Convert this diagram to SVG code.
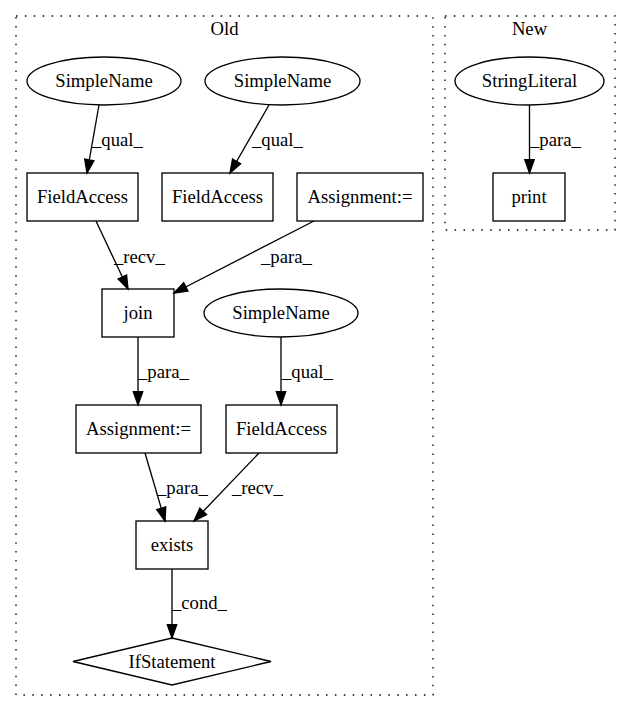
<svg xmlns="http://www.w3.org/2000/svg" width="631" height="712" viewBox="0 0 631 712">
<style>
text{font-family:"Liberation Serif","Times New Roman",serif;font-size:18.67px;fill:#000}
.c{text-anchor:middle}
.n{fill:none;stroke:#000;stroke-width:1.33}
.cl{fill:none;stroke:#000;stroke-width:1.33;stroke-dasharray:1.5,7.4}
.e{fill:none;stroke:#000;stroke-width:1.33}
</style>
<defs>
<marker id="ah" markerUnits="userSpaceOnUse" markerWidth="15" markerHeight="12" refX="13.3" refY="4.7" orient="auto" overflow="visible">
<path d="M0,0 L13.3,4.7 L0,9.4 Z" fill="#000" stroke="#000" stroke-width="1.33"/>
</marker>
</defs>
<rect width="631" height="712" fill="#fff"/>
<g id="cluster_old">
<rect class="cl" x="16" y="16" width="417" height="679"/>
<text class="c" x="224.5" y="35">Old</text>
</g>
<g id="cluster_new">
<rect class="cl" x="445" y="16" width="170" height="214"/>
<text class="c" x="529.5" y="35">New</text>
</g>
<g id="edges">
<path class="e" d="M99,105 L87,173" marker-end="url(#ah)"/>
<text x="92" y="146">_qual_</text>
<path class="e" d="M269,105 L230,173" marker-end="url(#ah)"/>
<text x="252" y="146">_qual_</text>
<path class="e" d="M529.5,105 L529.5,173" marker-end="url(#ah)"/>
<text x="530" y="146">_para_</text>
<path class="e" d="M96,221 L128,289" marker-end="url(#ah)"/>
<text x="114" y="263">_recv_</text>
<path class="e" d="M314,221 L174,293" marker-end="url(#ah)"/>
<text x="261" y="263">_para_</text>
<path class="e" d="M138,337 L138,405" marker-end="url(#ah)"/>
<text x="138" y="378">_para_</text>
<path class="e" d="M281,337 L281,405" marker-end="url(#ah)"/>
<text x="282" y="378">_qual_</text>
<path class="e" d="M145,453 L165,521" marker-end="url(#ah)"/>
<text x="157" y="494">_para_</text>
<path class="e" d="M259,453 L194,521" marker-end="url(#ah)"/>
<text x="232" y="494">_recv_</text>
<path class="e" d="M172,569 L172,638" marker-end="url(#ah)"/>
<text x="172" y="609">_cond_</text>
</g>
<g id="simplename1"><ellipse class="n" cx="104" cy="81" rx="77" ry="24"/><text class="c" x="104" y="87">SimpleName</text></g>
<g id="simplename2"><ellipse class="n" cx="282.5" cy="81" rx="77.5" ry="24"/><text class="c" x="282.5" y="87">SimpleName</text></g>
<g id="stringliteral"><ellipse class="n" cx="529.5" cy="81" rx="74.5" ry="24"/><text class="c" x="529.5" y="87">StringLiteral</text></g>
<g id="fieldaccess1"><rect class="n" x="27" y="173" width="111" height="48"/><text class="c" x="82.5" y="203">FieldAccess</text></g>
<g id="fieldaccess2"><rect class="n" x="162" y="173" width="111" height="48"/><text class="c" x="217.5" y="203">FieldAccess</text></g>
<g id="assignment1"><rect class="n" x="297" y="173" width="126" height="48"/><text class="c" x="360" y="203">Assignment:=</text></g>
<g id="print"><rect class="n" x="493" y="173" width="72" height="48"/><text class="c" x="529" y="203">print</text></g>
<g id="join"><rect class="n" x="102" y="289" width="72" height="48"/><text class="c" x="138" y="319">join</text></g>
<g id="simplename3"><ellipse class="n" cx="281" cy="313" rx="77" ry="24"/><text class="c" x="281" y="319">SimpleName</text></g>
<g id="assignment2"><rect class="n" x="76" y="405" width="125" height="48"/><text class="c" x="138.5" y="435">Assignment:=</text></g>
<g id="fieldaccess3"><rect class="n" x="226" y="405" width="111" height="48"/><text class="c" x="281.5" y="435">FieldAccess</text></g>
<g id="exists"><rect class="n" x="136" y="521" width="72" height="48"/><text class="c" x="172" y="551">exists</text></g>
<g id="ifstatement"><polygon class="n" points="172,638 271,661.5 172,685 73,661.5"/><text class="c" x="172" y="667.5">IfStatement</text></g>
</svg>
